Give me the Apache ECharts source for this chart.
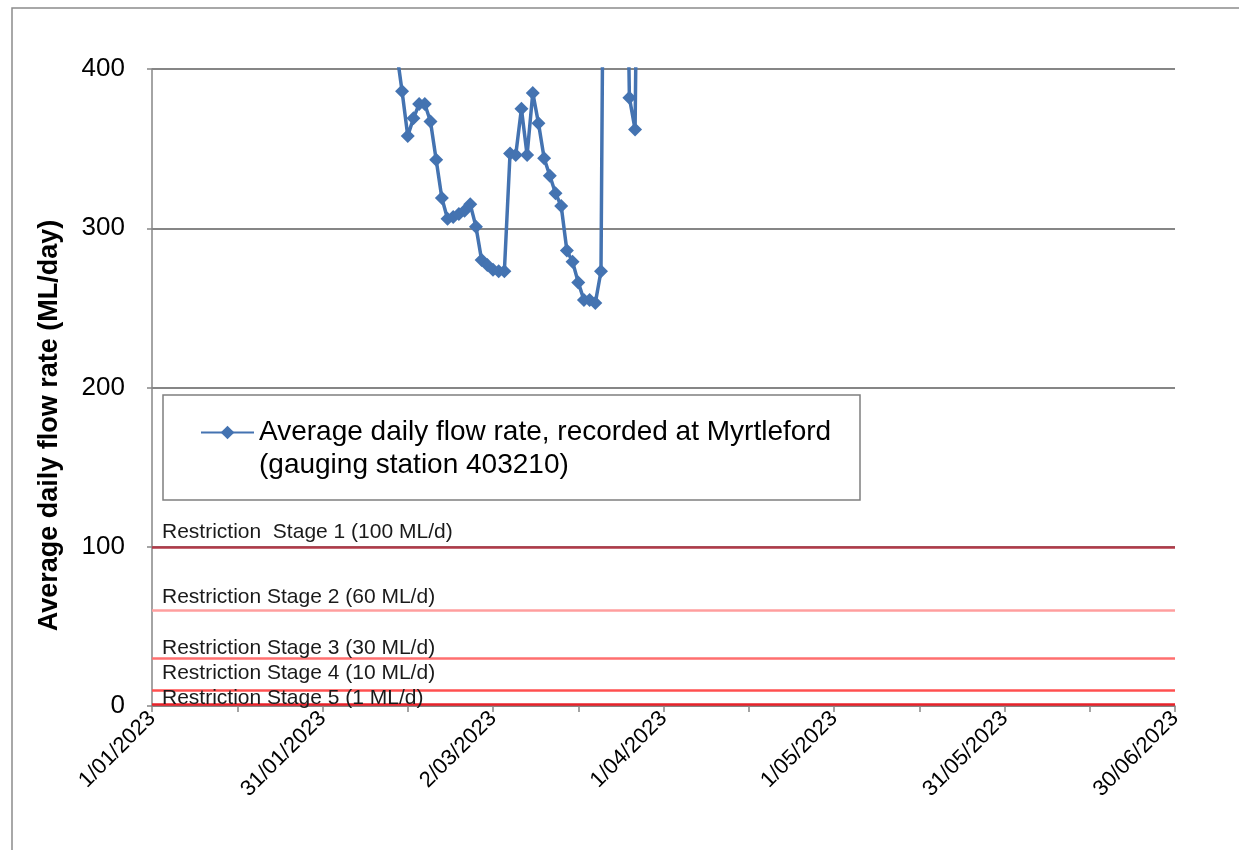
<!DOCTYPE html>
<html>
<head>
<meta charset="utf-8">
<style>
  html, body { margin: 0; padding: 0; background: #fff; }
  #main { width: 1239px; height: 850px; }
</style>
</head>
<body>
<div id="main"></div>
<script src="https://cdn.jsdelivr.net/npm/echarts@6/dist/echarts.min.js"></script>
<script type="text/javascript">
// daily readings, Myrtleford gauging station 403210 (values above 400 run off the top of the chart)
var flowDates = [
  '2023-02-13', '2023-02-14', '2023-02-15', '2023-02-16', '2023-02-17', '2023-02-18',
  '2023-02-19', '2023-02-20', '2023-02-21', '2023-02-22', '2023-02-23', '2023-02-24',
  '2023-02-25', '2023-02-26', '2023-02-27', '2023-02-28', '2023-03-01', '2023-03-02',
  '2023-03-03', '2023-03-04', '2023-03-05', '2023-03-06', '2023-03-07', '2023-03-08',
  '2023-03-09', '2023-03-10', '2023-03-11', '2023-03-12', '2023-03-13', '2023-03-14',
  '2023-03-15', '2023-03-16', '2023-03-17', '2023-03-18', '2023-03-19', '2023-03-20',
  '2023-03-21', '2023-03-22', '2023-03-23', '2023-03-24', '2023-03-25', '2023-03-26',
  '2023-03-27', '2023-03-28'
];
var flowValues = [
  412, 386, 358, 369, 378, 378,
  367, 343, 319, 306, 307, 309,
  311, 315, 301, 280, 277, 274,
  273, 273, 347, 346, 375, 346,
  385, 366, 344, 333, 322, 314,
  286, 279, 266, 255, 255, 253,
  273, 780, 1150, 900, 620, 382,
  362, 700
];

var restrictionLabels = [
  'Restriction  Stage 1 (100 ML/d)',
  'Restriction Stage 2 (60 ML/d)',
  'Restriction Stage 3 (30 ML/d)',
  'Restriction Stage 4 (10 ML/d)',
  'Restriction Stage 5 (1 ML/d)'
];
var restrictionLevels = [100, 60, 30, 10, 1];

var yTicks = [0, 100, 200, 300, 400];

var seriesName = 'Average daily flow rate, recorded at Myrtleford (gauging station 403210)';

// styling for the restriction lines (kept apart from the data)
var stageColors = ['#B23A48', '#FF9E9E', '#FF6F6F', '#FF4F4F', '#E8222A'];
var stageLabelLift = [4, 3, 0, 6, -4];

var font = 'Liberation Sans, Arial, sans-serif';
var startDay = Date.UTC(2023, 0, 1);

function dayOf(s) {
  var p = s.split('-');
  return (Date.UTC(+p[0], +p[1] - 1, +p[2]) - startDay) / 86400000;
}
function dateLabel(v) {
  var d = new Date(startDay + v * 86400000);
  var mm = d.getUTCMonth() + 1;
  return d.getUTCDate() + '/' + (mm < 10 ? '0' + mm : mm) + '/' + d.getUTCFullYear();
}

var points = [];
for (var i = 0; i < flowDates.length; i++) {
  points.push([dayOf(flowDates[i]), flowValues[i]]);
}

var marks = [];
for (var k = 0; k < restrictionLevels.length; k++) {
  marks.push({
    yAxis: restrictionLevels[k],
    lineStyle: { color: stageColors[k], width: 2.5, type: 'solid' },
    label: {
      show: true,
      position: 'insideStartTop',
      formatter: restrictionLabels[k],
      distance: [10, stageLabelLift[k]],
      color: '#1a1a1a',
      fontSize: 21,
      fontFamily: font
    }
  });
}

var chart = echarts.init(document.getElementById('main'));

var option = {
  backgroundColor: '#fff',
  animation: false,
  grid: { left: 152, right: 64, top: 69, bottom: 144, containLabel: false },
  graphic: [
    {
      type: 'rect',
      shape: { x: 12, y: 8, width: 1400, height: 1000 },
      style: { fill: 'none', stroke: '#8c8c8c', lineWidth: 1.5 },
      silent: true
    },
    {
      type: 'rect',
      shape: { x: 163, y: 395, width: 697, height: 105 },
      style: { fill: 'none', stroke: '#7f7f7f', lineWidth: 1.5 },
      silent: true
    }
  ],
  legend: {
    data: [seriesName],
    left: 200,
    top: 383,
    padding: 0,
    itemWidth: 53,
    itemHeight: 17,
    formatter: function () {
      // leading blank line keeps the first text line level with the legend icon
      return '\u00a0\nAverage daily flow rate, recorded at Myrtleford\n(gauging station 403210)';
    },
    textStyle: {
      fontSize: 28,
      lineHeight: 33,
      color: '#000',
      fontFamily: font
    }
  },
  xAxis: {
    type: 'value',
    min: 0,
    max: 180,
    interval: 15,
    axisLine: { show: true, lineStyle: { color: '#868686', width: 1.5 } },
    axisTick: { show: true, length: 6, lineStyle: { color: '#868686', width: 1.5 } },
    splitLine: { show: false },
    axisLabel: {
      rotate: 45,
      margin: 9,
      fontSize: 22,
      color: '#000',
      fontFamily: font,
      formatter: function (v) {
        return v % 30 === 0 ? dateLabel(v) : '';
      }
    }
  },
  yAxis: {
    type: 'value',
    min: yTicks[0],
    max: yTicks[yTicks.length - 1],
    interval: 100,
    name: 'Average daily flow rate (ML/day)',
    nameLocation: 'middle',
    nameGap: 89,
    nameTextStyle: {
      fontSize: 27,
      fontWeight: 'bold',
      color: '#000',
      fontFamily: font,
      padding: [0, 76, 0, 0]
    },
    axisLine: { show: true, lineStyle: { color: '#868686', width: 1.5 } },
    axisTick: { show: true, length: 5, lineStyle: { color: '#868686', width: 1.5 } },
    splitLine: { show: true, lineStyle: { color: '#868686', width: 2 } },
    axisLabel: { fontSize: 26, color: '#000', fontFamily: font, margin: 27 }
  },
  series: [
    {
      name: 'restrictions',
      type: 'line',
      data: [],
      silent: true,
      markLine: {
        silent: true,
        symbol: ['none', 'none'],
        data: marks
      }
    },
    {
      name: seriesName,
      type: 'line',
      data: points,
      clip: true,
      symbol: 'diamond',
      symbolSize: 14,
      showAllSymbol: true,
      color: '#4473B1',
      lineStyle: { color: '#4473B1', width: 3.5 },
      itemStyle: { color: '#4473B1' },
      z: 5
    }
  ]
};

chart.setOption(option);
</script>
</body>
</html>
